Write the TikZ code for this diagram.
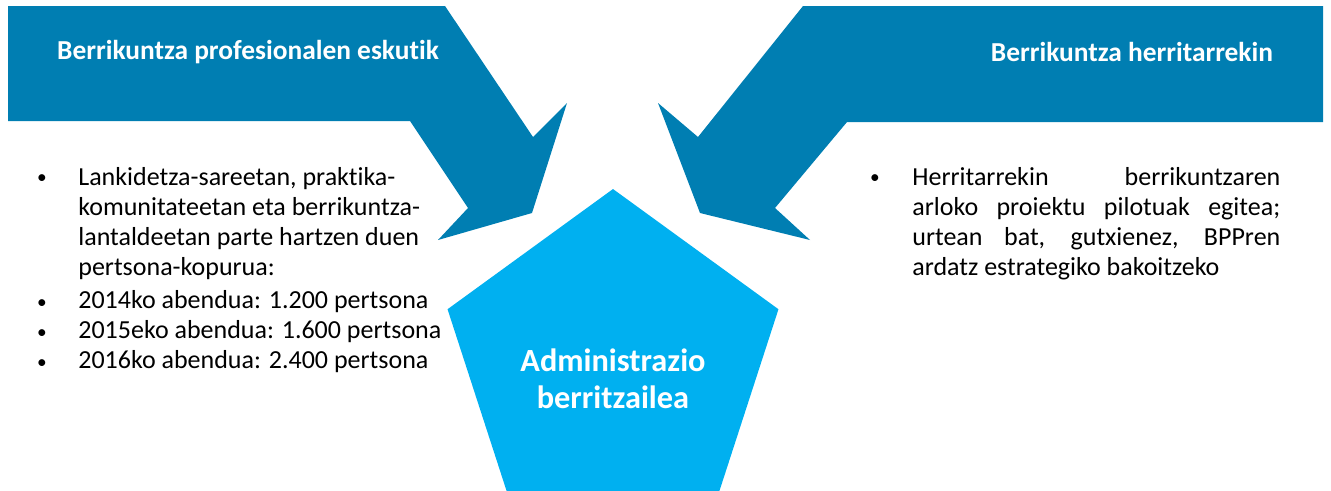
\documentclass[tikz,border=0pt]{standalone}
\usepackage{fontspec}
\setmainfont{Carlito}[Ligatures=NoCommon]
\usepackage{tikz}
\usetikzlibrary{shapes.geometric}
\definecolor{arrowblue}{RGB}{0,126,178}
\definecolor{hubblue}{RGB}{0,176,240}

\begin{document}
\begin{tikzpicture}[x=0.02cm, y=-0.02cm,
    titletext/.style={text=white, inner sep=0pt, font=\bfseries\fontsize{15.6}{18}\selectfont},
    bodytext/.style={inner sep=0pt, font=\fontsize{14.8}{17}\selectfont},
    dot/.style={inner sep=0pt, anchor=base, font=\fontsize{11}{13}\selectfont}]
    \useasboundingbox (0,0) rectangle (1331,490);
    \clip (0,0) rectangle (1331,490);
    \fill[arrowblue] (8,6) -- (445,6) -- (533,137) -- (567,103) -- (532,213) -- (438,240) -- (468,208) -- (410,121) -- (8,121) -- cycle;
    \fill[arrowblue] (1323,6) -- (803,6) -- (698,137) -- (658,103) -- (700,213) -- (810,240) -- (775,208) -- (847,122) -- (1323,122) -- cycle;
    \node[regular polygon, regular polygon sides=5, fill=hubblue, inner sep=0pt, minimum size=6.96cm] (hub) at (613,363) {};
    \node[text=white, align=center, font=\bfseries\fontsize{18.4}{21}\selectfont] (hubtext) at (613,379) {Administrazio\\berritzailea};
    \node[titletext] (lefttitle) at (248,52) {Berrikuntza profesionalen eskutik};
    \node[titletext] (righttitle) at (1132,52) {Berrikuntza herritarrekin};
    \node[dot] (ldot1) at (42,183) {\textbullet};
    \node[dot] (ldot2) at (42,308) {\textbullet};
    \node[dot] (ldot3) at (42,338) {\textbullet};
    \node[dot] (ldot4) at (42,368) {\textbullet};
    \node[bodytext, anchor=north west, align=left] (litem1) at (78,167) {Lankidetza-sareetan, praktika-\\komunitateetan eta berrikuntza-\\lantaldeetan parte hartzen duen\\pertsona-kopurua:};
    \node[bodytext, anchor=base west] (litem2) at (78,308) {2014ko abendua: 1.200 pertsona};
    \node[bodytext, anchor=base west] (litem3) at (78,338) {2015eko abendua: 1.600 pertsona};
    \node[bodytext, anchor=base west] (litem4) at (78,368) {2016ko abendua: 2.400 pertsona};
    \node[dot] (rdot1) at (875,183) {\textbullet};
    \node[bodytext, anchor=north west, text width=7.36cm, align=justify] (ritem1) at (912,167) {Herritarrekin berrikuntzaren\linebreak arloko proiektu pilotuak egitea;\linebreak urtean bat, gutxienez, BPPren\linebreak ardatz estrategiko bakoitzeko};
\end{tikzpicture}
\end{document}
